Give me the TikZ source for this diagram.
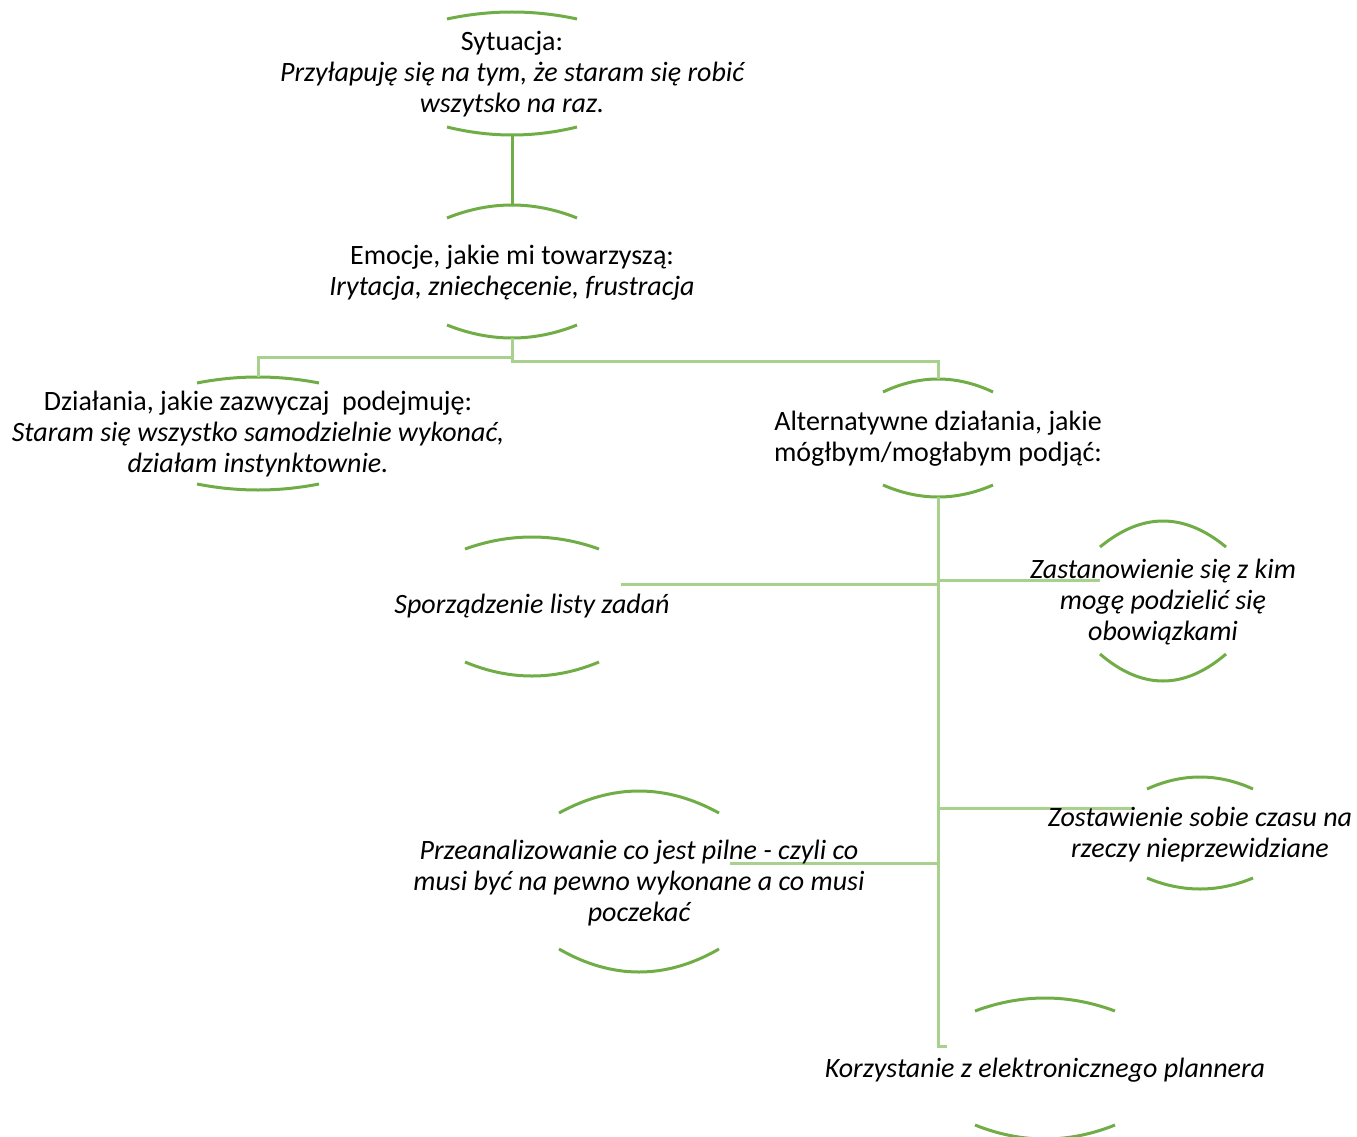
\documentclass[tikz,border=0pt]{standalone}
\usepackage{fontspec}
\setmainfont{Carlito}
\definecolor{arcgreen}{RGB}{112,173,71}
\definecolor{linegreen}{RGB}{169,209,142}
\tikzset{
  arcline/.style={draw=arcgreen, line width=3pt},
  conn/.style={draw=linegreen, line width=3pt},
  darkconn/.style={draw=arcgreen, line width=3pt},
  label/.style={align=center, inner sep=0pt, yshift=-1.5pt, font=\fontsize{28}{31}\selectfont, text=black}
}
% #1 name, #2 cx, #3 half width, #4 top apex y, #5 top end y, #6 bottom end y, #7 bottom apex y
\newcommand{\arcpair}[7]{%
  \coordinate (#1-t) at (#2,#4);
  \coordinate (#1-b) at (#2,#7);
  \draw[arcline] ({#2-#3},#5) .. controls ({#2-#3/3},{#5+4/3*(#4-#5)}) and ({#2+#3/3},{#5+4/3*(#4-#5)}) .. ({#2+#3},#5);
  \draw[arcline] ({#2-#3},#6) .. controls ({#2-#3/3},{#6+4/3*(#7-#6)}) and ({#2+#3/3},{#6+4/3*(#7-#6)}) .. ({#2+#3},#6);
}
\begin{document}
\begin{tikzpicture}[x=1pt,y=-1pt]
\useasboundingbox (0,0) rectangle (1357,1137);
\begin{scope}
\clip (0,0) rectangle (1357,1137);
% arcs
\arcpair{s1}{512}{65}{12}{19}{127}{135}
\arcpair{s2}{512}{65}{205}{218}{325}{338}
\arcpair{s3}{258}{61}{377}{383}{484}{490}
\arcpair{s4}{938}{55}{379}{392}{485}{497}
\arcpair{s5}{532}{67}{537}{549}{662}{676}
\arcpair{s6}{1163}{63}{521}{547}{654}{681}
\arcpair{s7}{639}{80}{791}{813}{949}{972}
\arcpair{s8}{1200}{53}{777}{789}{878}{889}
\arcpair{s9}{1045}{70}{998}{1011}{1125}{1139}
\end{scope}
% connector end points
\coordinate (p5) at (621,584);
\coordinate (p6) at (1100,580);
\coordinate (p7) at (730,863);
\coordinate (p8) at (1132,808);
\coordinate (p9) at (947,1046);
% connectors
\draw[darkconn] (s1-b) -- (s2-t);
\draw[conn] (s2-b) -- ++(0,19) -| (s3-t);
\draw[conn] (s2-b) -- ++(0,23) -| (s4-t);
\draw[conn] (s4-b) |- (p9);
\draw[conn] (s4-b |- p5) -- (p5);
\draw[conn] (s4-b |- p6) -- (p6);
\draw[conn] (s4-b |- p7) -- (p7);
\draw[conn] (s4-b |- p8) -- (p8);
% texts
\node[label] (n1) at (512,73) {Sytuacja:\\\itshape Przyłapuję się na tym, że staram się robić\\\itshape wszytsko na raz.};
\node[label] (n2) at (512,271.5) {Emocje, jakie mi towarzyszą:\\\itshape Irytacja, zniechęcenie, frustracja};
\node[label] (n3) at (258,433) {Działania, jakie zazwyczaj\ \ podejmuję:\\\itshape Staram się wszystko samodzielnie wykonać,\\\itshape działam instynktownie.};
\node[label] (n4) at (938,437.5) {Alternatywne działania, jakie\\mógłbym/mogłabym podjąć:};
\node[label] (n5) at (532,605) {\itshape Sporządzenie listy zadań};
\node[label] (n6) at (1163,601) {\itshape Zastanowienie się z kim\\\itshape mogę podzielić się\\\itshape obowiązkami};
\node[label] (n7) at (639,882) {\itshape Przeanalizowanie co jest pilne - czyli co\\\itshape musi być na pewno wykonane a co musi\\\itshape poczekać};
\node[label] (n8) at (1200,833.5) {\itshape Zostawienie sobie czasu na\\\itshape rzeczy nieprzewidziane};
\node[label] (n9) at (1045,1069) {\itshape Korzystanie z elektronicznego plannera};
\end{tikzpicture}
\end{document}
